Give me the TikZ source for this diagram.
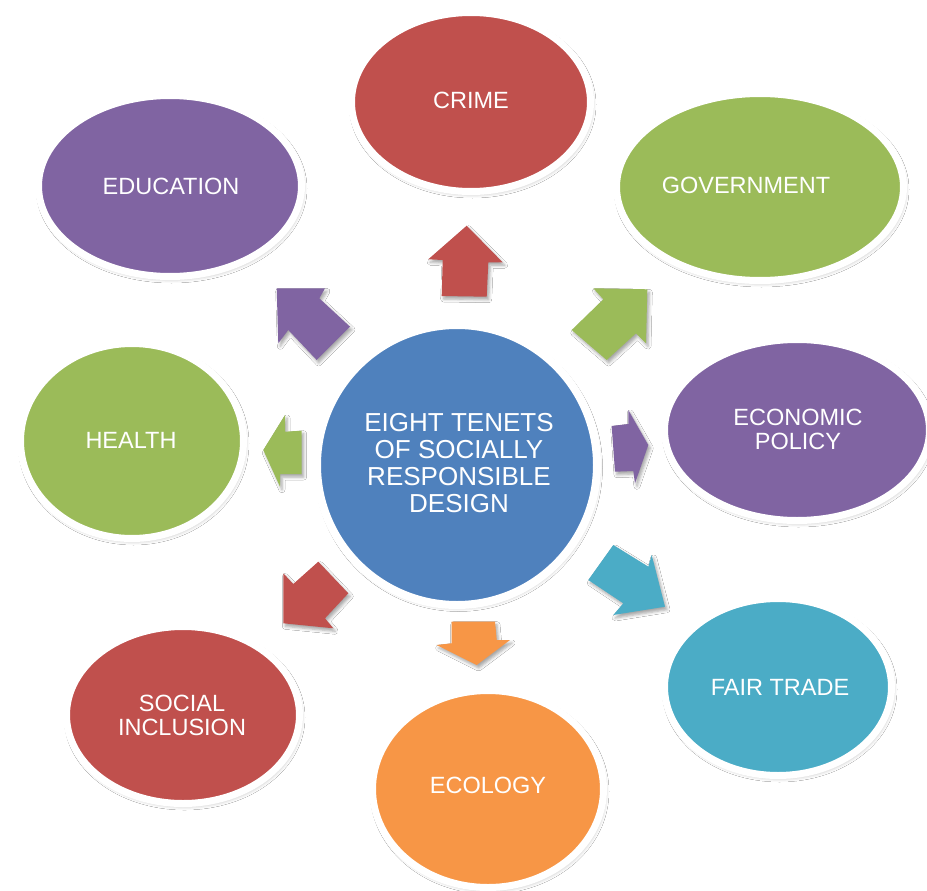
\documentclass[tikz,border=0pt]{standalone}
\usepackage{fontspec}
\setmainfont{Liberation Sans}
\usetikzlibrary{shapes.geometric,shadows.blur}
\definecolor{cred}{HTML}{C0504D}
\definecolor{cgreen}{HTML}{9BBB59}
\definecolor{cpurple}{HTML}{8064A2}
\definecolor{cblue}{HTML}{4F81BD}
\definecolor{cteal}{HTML}{4BACC6}
\definecolor{corange}{HTML}{F79646}
\begin{document}
\begin{tikzpicture}[x=1pt,y=-1pt,
  tenet/.style={ellipse, draw=white, line width=7pt, inner sep=0pt,
    blur shadow={shadow xshift=1.5pt, shadow yshift=-2.5pt, shadow blur radius=4pt, shadow opacity=30}},
  hubstyle/.style={circle, draw=white, line width=8pt, inner sep=0pt, fill=cblue,
    blur shadow={shadow xshift=1.5pt, shadow yshift=-2.5pt, shadow blur radius=4pt, shadow opacity=30}},
  lbl/.style={text=white, font=\fontsize{23.5}{24}\selectfont, align=center, inner sep=0pt},
  hublbl/.style={text=white, font=\fontsize{26}{27}\selectfont, align=center, inner sep=0pt},
  barrow/.style={blur shadow={shadow xshift=2pt, shadow yshift=-3pt, shadow blur radius=3pt, shadow opacity=35}}]

\useasboundingbox[fill=white] (0,0) rectangle (927,891);

% tenet ellipses
\node[tenet, fill=cred,    minimum width=239pt, minimum height=179pt] (crime) at (471,102) {};
\node[tenet, fill=cgreen,  minimum width=287pt, minimum height=187pt] (gov)   at (760,187) {};
\node[tenet, fill=cpurple, minimum width=265pt, minimum height=181pt] (econ)  at (797,430) {};
\node[tenet, fill=cteal,   minimum width=227pt, minimum height=177pt] (fair)  at (778,687) {};
\node[tenet, fill=corange, minimum width=231pt, minimum height=197pt] (eco)   at (488,789) {};
\node[tenet, fill=cred,    minimum width=233pt, minimum height=177pt] (soc)   at (183,715) {};
\node[tenet, fill=cgreen,  minimum width=223pt, minimum height=195pt] (health) at (132,441) {};
\node[tenet, fill=cpurple, minimum width=263pt, minimum height=181pt] (edu)   at (170,186) {};

% hub
\node[hubstyle, minimum size=280pt] (hub) at (457,465) {};

% block arrows
\path[barrow, fill=cred] (466.7,225.7) -- (502.7,262.3) -- (488.3,262.3) -- (486.7,296.7)
  -- (441.7,296) -- (442.7,260) -- (428.3,259.3) -- cycle;
\path[barrow, fill=cgreen] (647.3,289.3) -- (646,343.3) -- (636,333.3) -- (606.7,360)
  -- (571.7,330) -- (603.3,299.3) -- (593.3,288.3) -- cycle;
\path[barrow, fill=cpurple] (648.3,445) -- (635,483.3) -- (633.3,471) -- (615,471.7)
  -- (611.7,426) -- (628.3,424) -- (628.3,410) -- cycle;
\path[barrow, fill=cteal] (665,606.7) -- (613.3,615) -- (623.3,603.3) -- (588.3,580)
  -- (613.3,545) -- (648.3,566.7) -- (651.7,555) -- cycle;
\path[barrow, fill=corange] (476.7,665) -- (436.7,645) -- (451.7,643.3) -- (451.7,621.7)
  -- (495,621.7) -- (496.7,640) -- (510,640) -- cycle;
\path[barrow, fill=cred] (283.3,623.3) -- (283.3,573.3) -- (293.3,584) -- (318.3,561.7)
  -- (348.3,593.3) -- (325,618.3) -- (333.3,628.3) -- cycle;
\path[barrow, fill=cgreen] (263.3,450) -- (285,415) -- (285,431.7) -- (301.7,430.7)
  -- (301.7,474) -- (280,474) -- (280,486.7) -- cycle;
\path[barrow, fill=cpurple] (276.7,288.3) -- (325,288.3) -- (319.3,298.3) -- (350,326.7)
  -- (316.7,360) -- (288.3,330) -- (278.3,343.3) -- cycle;

% labels
\node[hublbl] (hubtext) at (459,463.5) {EIGHT TENETS\\OF SOCIALLY\\RESPONSIBLE\\DESIGN};
\node[lbl] (crimetext)  at (471,100) {CRIME};
\node[lbl] (govtext)    at (746,185) {GOVERNMENT};
\node[lbl] (econtext)   at (798,429) {ECONOMIC\\POLICY};
\node[lbl] (fairtext)   at (780,687) {FAIR TRADE};
\node[lbl] (ecotext)    at (488,785) {ECOLOGY};
\node[lbl] (soctext)    at (182,715) {SOCIAL\\INCLUSION};
\node[lbl] (healthtext) at (131,440) {HEALTH};
\node[lbl] (edutext)    at (171,186) {EDUCATION};
\end{tikzpicture}
\end{document}
